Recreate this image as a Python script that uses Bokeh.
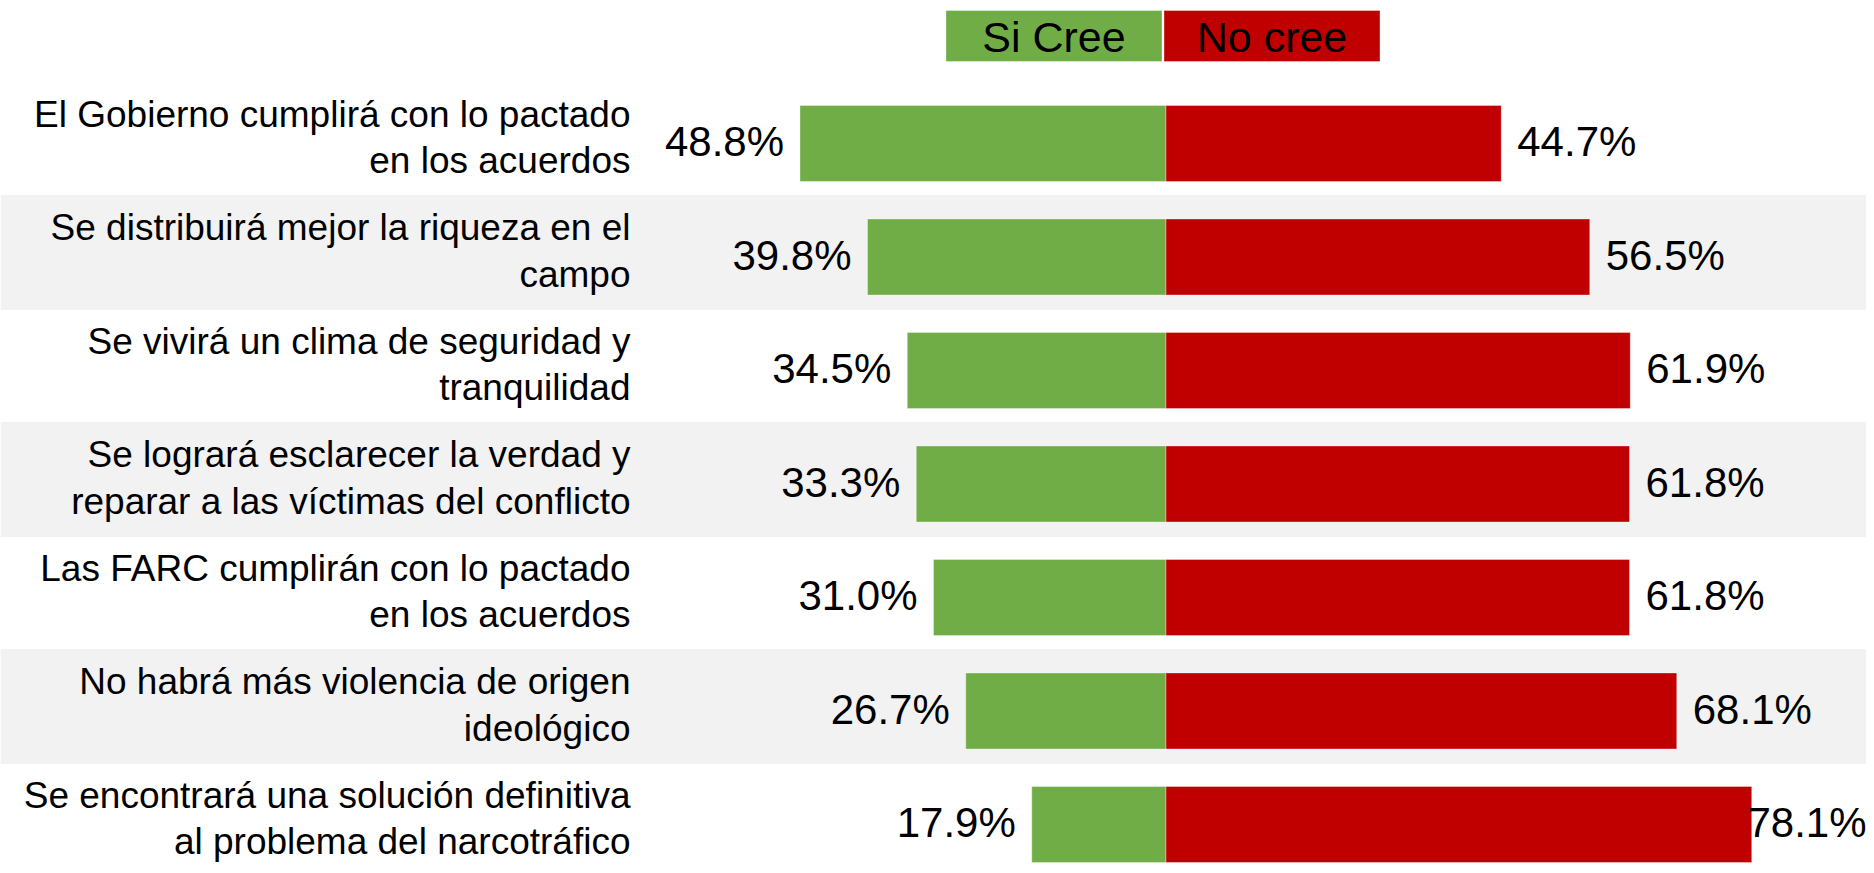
from bokeh.plotting import figure
from bokeh.models import Range1d, ColumnDataSource
from bokeh.core.properties import value
from bokeh.embed import file_html
from bokeh.resources import INLINE

# ---- data ----
statements = [
    "El Gobierno cumplirá con lo pactado\nen los acuerdos",
    "Se distribuirá mejor la riqueza en el\ncampo",
    "Se vivirá un clima de seguridad y\ntranquilidad",
    "Se logrará esclarecer la verdad y\nreparar a las víctimas del conflicto",
    "Las FARC cumplirán con lo pactado\nen los acuerdos",
    "No habrá más violencia de origen\nideológico",
    "Se encontrará una solución definitiva\nal problema del narcotráfico",
]
si_cree = [48.8, 39.8, 34.5, 33.3, 31.0, 26.7, 17.9]
no_cree = [44.7, 56.5, 61.9, 61.8, 61.8, 68.1, 78.1]
series_names = ["Si Cree", "No cree"]

GREEN = "#70AD47"
RED = "#C00000"
BAND = "#F2F2F2"
FONT = value("Liberation Sans")

W, H = 1866, 865
PX_PER_UNIT_X = 7.5
PX_PER_ROW = 113.5
x_start = -1165.5 / PX_PER_UNIT_X
x_end = x_start + W / PX_PER_UNIT_X
y_top = -143 / PX_PER_ROW
y_bottom = y_top + H / PX_PER_ROW

p = figure(width=W, height=H, output_backend="svg", toolbar_location=None,
           x_range=Range1d(x_start, x_end), y_range=Range1d(y_bottom, y_top),
           min_border=0, outline_line_color=None)
p.axis.visible = False
p.grid.visible = False
p.background_fill_color = "white"
p.border_fill_color = "white"

rows = list(range(len(statements)))

# alternating bands
band_rows = [r - 0.04 for r in rows if r % 2 == 1]
p.hbar(y=band_rows, left=x_start, right=x_end, height=115 / PX_PER_ROW,
       fill_color=BAND, line_color=None)

src = ColumnDataSource(dict(
    y=rows,
    si_left=[-v for v in si_cree],
    no_right=no_cree,
    si_txt=[f"{v:.1f}%" for v in si_cree],
    label=statements,
))

p.hbar(y="y", left="si_left", right=0, height=0.67, source=src,
       fill_color=GREEN, line_color="white", line_alpha=0.35, line_width=1)
p.hbar(y="y", left=0, right="no_right", height=0.67, source=src,
       fill_color=RED, line_color="white", line_alpha=0.35, line_width=1)

# category labels
p.text(x=-71.4, y="y", text="label", source=src, text_align="right",
       text_baseline="middle", text_font=FONT, text_font_size="37px",
       text_line_height=1.13, text_color="black", y_offset=-6)

# value labels
PCT_SIZE = 42
p.text(x="si_left", y="y", text="si_txt", source=src, text_align="right",
       text_baseline="middle", text_font=FONT, text_font_size=f"{PCT_SIZE}px",
       text_color="black", x_offset=-16, y_offset=-2)

est_w = 2.835 * PCT_SIZE / PX_PER_UNIT_X
gap = 16 / PX_PER_UNIT_X
fit_x, fit_txt, fit_y = [], [], []
over_x, over_txt, over_y = [], [], []
for r, v in zip(rows, no_cree):
    t = f"{v:.1f}%"
    if v + gap + est_w <= x_end:
        fit_x.append(v); fit_txt.append(t); fit_y.append(r)
    else:
        over_x.append(x_end); over_txt.append(t); over_y.append(r)
p.text(x=fit_x, y=fit_y, text=fit_txt, text_align="left", text_baseline="middle",
       text_font=FONT, text_font_size=f"{PCT_SIZE}px", text_color="black",
       x_offset=16, y_offset=-2)
if over_x:
    p.text(x=over_x, y=over_y, text=over_txt, text_align="right", text_baseline="middle",
           text_font=FONT, text_font_size=f"{PCT_SIZE}px", text_color="black",
           x_offset=0, y_offset=-2)

# legend boxes
leg_y = y_top + 35.5 / PX_PER_ROW
leg_h = 51 / PX_PER_ROW
leg_w = 216 / PX_PER_UNIT_X
leg_left = [-(220 / PX_PER_UNIT_X), -(2 / PX_PER_UNIT_X)]
p.hbar(y=[leg_y, leg_y], left=leg_left, right=[l + leg_w for l in leg_left],
       height=leg_h, fill_color=[GREEN, RED], line_color="white", line_alpha=0.35)
p.text(x=[l + leg_w / 2 for l in leg_left], y=[leg_y, leg_y], text=series_names,
       text_align="center", text_baseline="middle", text_font=FONT,
       text_font_size="43px", text_color="black", y_offset=1)

open("out.html", "w").write(file_html(p, INLINE))
